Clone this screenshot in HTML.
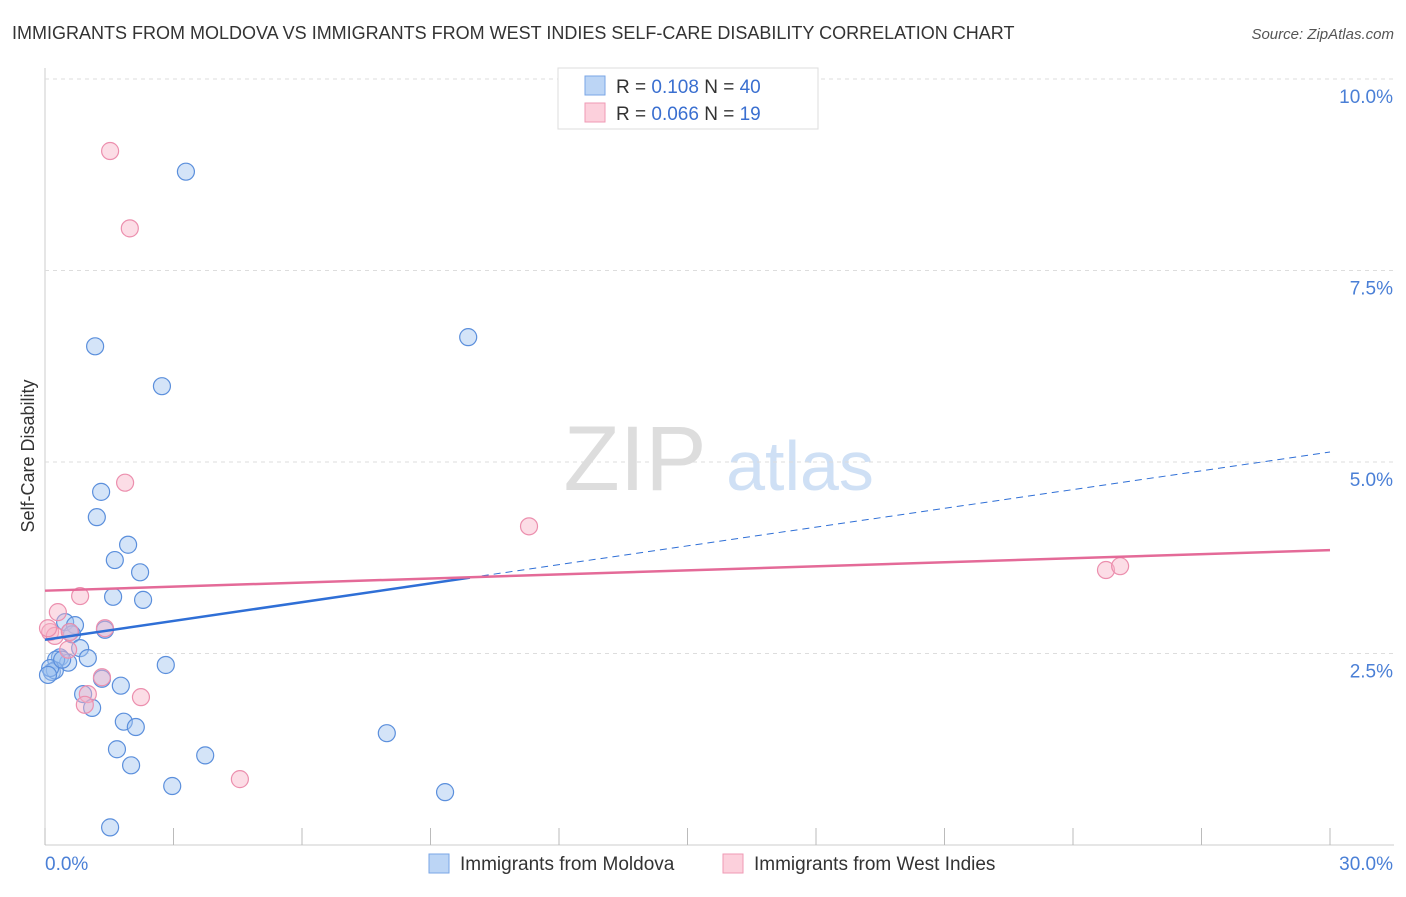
<!DOCTYPE html>
<html><head><meta charset="utf-8"><style>
body{margin:0;background:#fff;font-family:"Liberation Sans",sans-serif}
svg text{font-family:"Liberation Sans",sans-serif}
</style></head><body>
<svg width="1406" height="892" id="c">
<text x="12" y="39" font-size="18" fill="#333">IMMIGRANTS FROM MOLDOVA VS IMMIGRANTS FROM WEST INDIES SELF-CARE DISABILITY CORRELATION CHART</text>
<text x="1394" y="39" font-size="15" fill="#555" text-anchor="end" font-style="italic">Source: ZipAtlas.com</text>
<text x="635" y="490" font-size="92" fill="#ddd" font-family="Liberation Serif" text-anchor="middle">ZIP</text>
<text x="800" y="490" font-size="70" fill="#cfe0f5" text-anchor="middle">atlas</text>
<text x="34" y="456" font-size="18" fill="#333" text-anchor="middle" transform="rotate(-90 34 456)">Self-Care Disability</text>
<g id="axes"></g>
<g id="marks"></g>
<g>
<rect x="558" y="68" width="260" height="61" fill="#fff" stroke="#ddd"/>
<rect x="585" y="76" width="20" height="19" fill="#bcd5f5" stroke="#7aa6e6"/>
<rect x="585" y="103" width="20" height="19" fill="#fcd0dc" stroke="#ef9ab4"/>
<text x="616" y="93" font-size="19" fill="#333">R = <tspan fill="#3a6fd0">0.108</tspan>   N = <tspan fill="#3a6fd0">40</tspan></text>
<text x="616" y="120" font-size="19" fill="#333">R = <tspan fill="#3a6fd0">0.066</tspan>   N = <tspan fill="#3a6fd0"> 19</tspan></text>
</g>
<g>
<rect x="429" y="854" width="20" height="19" fill="#bcd5f5" stroke="#7aa6e6"/>
<text x="460" y="870" font-size="19" fill="#333">Immigrants from Moldova</text>
<rect x="723" y="854" width="20" height="19" fill="#fcd0dc" stroke="#ef9ab4"/>
<text x="754" y="870" font-size="19" fill="#333">Immigrants from West Indies</text>
</g>
</svg>
<script>
const blueX=[3.29,1.17,9.88,2.73,1.31,1.21,1.94,1.63,2.22,1.59,2.29,0.47,0.70,0.63,1.40,0.82,0.35,1.00,0.54,0.26,2.82,0.16,0.23,1.33,1.77,0.89,1.10,1.84,2.12,7.98,1.68,3.74,2.01,2.97,9.34,1.52,0.12,0.40,0.58,0.07];
const blueY=[8.79,6.51,6.63,5.99,4.61,4.28,3.92,3.72,3.56,3.24,3.20,2.91,2.87,2.75,2.81,2.57,2.45,2.44,2.38,2.42,2.35,2.26,2.28,2.17,2.08,1.97,1.79,1.61,1.54,1.46,1.25,1.17,1.04,0.77,0.69,0.23,2.31,2.42,2.78,2.22];
const pinkX=[1.52,1.98,1.87,11.30,24.77,25.10,0.82,0.30,0.12,0.23,0.58,1.40,0.54,1.33,1.00,0.93,2.24,4.55,0.07];
const pinkY=[9.06,8.05,4.73,4.16,3.59,3.64,3.25,3.04,2.78,2.73,2.78,2.83,2.55,2.19,1.97,1.83,1.93,0.86,2.83];
const blueTrend=[2.68,5.13];
const pinkTrend=[3.32,3.85];
const blueSolidEnd=9.92;
const yTicks=[2.5,5.0,7.5,10.0];
const xTicks=[0,3,6,9,12,15,18,21,24,27,30];
const NS='http://www.w3.org/2000/svg';
const X=v=>45+v/30*1285, Y=v=>845-v*76.6;
function mk(t,a,p){const e=document.createElementNS(NS,t);for(const k in a)e.setAttribute(k,a[k]);p.appendChild(e);return e;}
const ax=document.getElementById('axes'),mg=document.getElementById('marks');
let l=mk('line',{x1:45,y1:68,x2:45,y2:845,stroke:'#ccc'},ax);


l=mk('line',{x1:45,y1:845,x2:1394,y2:845,stroke:'#ccc'},ax);


yTicks.forEach(v=>{
 const g=mk('line',{x1:45,y1:Y(v),x2:1394,y2:Y(v),stroke:'#ddd','stroke-dasharray':'4,4'},ax);
 
 
 const t=mk('text',{x:1393,y:Y(v)+24,'font-size':19,fill:'#4a7fd6','text-anchor':'end'},ax);
 t.textContent=v.toFixed(1)+'%';
 
 
});
xTicks.forEach(v=>{
 const k=mk('line',{x1:X(v),y1:828,x2:X(v),y2:845,stroke:'#bbb'},ax);
 
 
});
[[0,'0.0%','start',45],[30,'30.0%','end',1393]].forEach(d=>{
 const t=mk('text',{x:d[3],y:870,'font-size':19,fill:'#4a7fd6','text-anchor':d[2]},ax);
 t.textContent=d[1];
 
 
});
function pts(xs,ys,fill,stroke,name){xs.forEach((x,i)=>{
 const c=mk('circle',{cx:X(x),cy:Y(ys[i]),r:8.5,fill:fill,stroke:stroke,'stroke-width':1.2},mg);
 
 
});}
pts(blueX,blueY,'rgba(160,196,240,0.45)','#5b8fdc','moldova-point');
pts(pinkX,pinkY,'rgba(248,180,200,0.45)','#ec8fae','west-indies-point');
const by=x=>blueTrend[0]+(blueTrend[1]-blueTrend[0])*x/30;
l=mk('line',{x1:X(0),y1:Y(by(0)),x2:X(blueSolidEnd),y2:Y(by(blueSolidEnd)),stroke:'#2f6fd6','stroke-width':2.5},mg);


l=mk('line',{x1:X(blueSolidEnd),y1:Y(by(blueSolidEnd)),x2:X(30),y2:Y(by(30)),stroke:'#2f6fd6','stroke-width':1,'stroke-dasharray':'7,5'},mg);


l=mk('line',{x1:X(0),y1:Y(pinkTrend[0]),x2:X(30),y2:Y(pinkTrend[1]),stroke:'#e46a98','stroke-width':2.5},mg);


</script>
</body></html>
